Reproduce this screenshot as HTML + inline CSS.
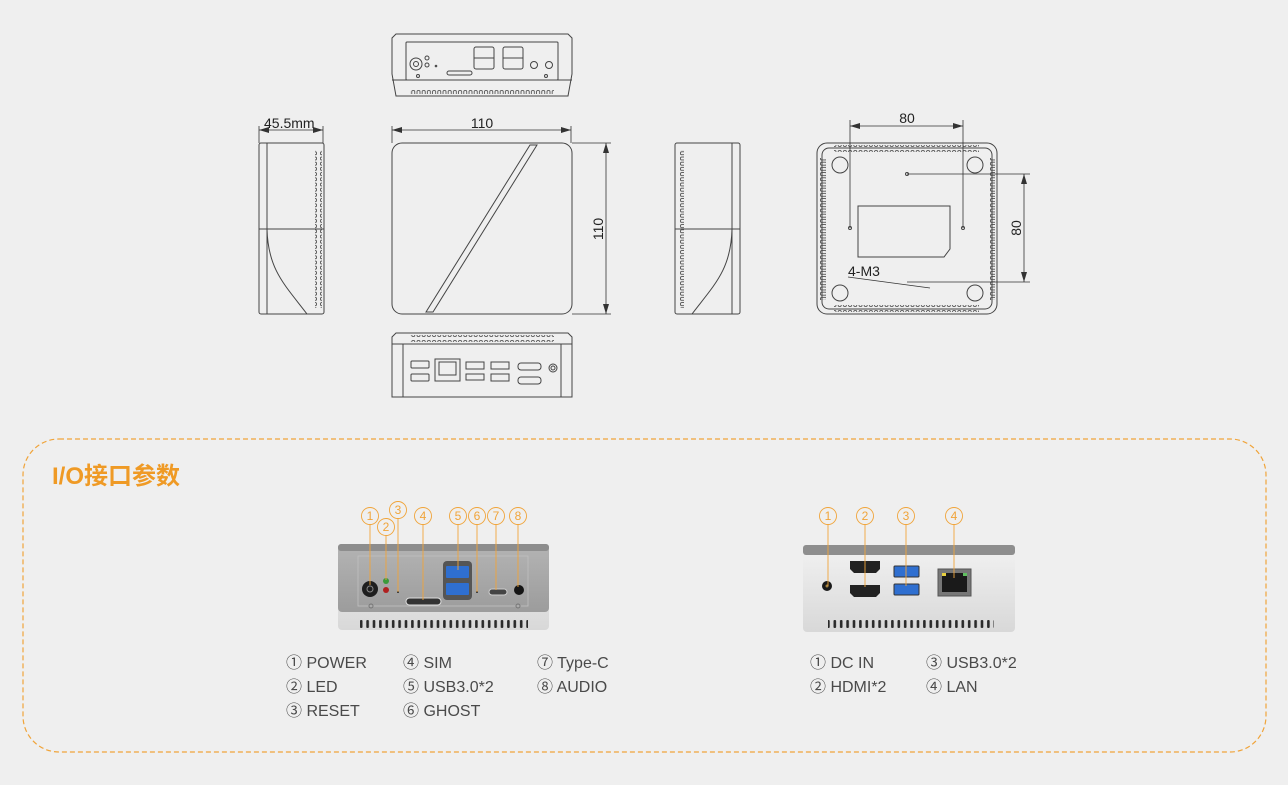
<!DOCTYPE html>
<html><head><meta charset="utf-8"><style>
html,body{margin:0;padding:0;background:#efefef;}
svg{display:block;}
.t{font-family:"Liberation Sans","Noto Sans CJK SC",sans-serif;}
</style></head><body>
<svg width="1288" height="785" viewBox="0 0 1288 785" xmlns="http://www.w3.org/2000/svg">
<defs>
<pattern id="finh" x="0" y="0" width="5.2" height="10" patternUnits="userSpaceOnUse">
<rect x="1" y="0.5" width="3" height="6" rx="1.2" fill="none" stroke="#444" stroke-width="0.8"/>
</pattern>
<pattern id="finv" x="0" y="0" width="10" height="5.2" patternUnits="userSpaceOnUse">
<rect x="0.5" y="1" width="6" height="3" rx="1.2" fill="none" stroke="#444" stroke-width="0.8"/>
</pattern>
<pattern id="vent" x="0" y="0" width="6.4" height="10" patternUnits="userSpaceOnUse">
<rect x="1.5" y="0" width="2.6" height="8" rx="1" fill="#2a2a2a"/>
</pattern>
<linearGradient id="gbody" x1="0" y1="0" x2="0" y2="1">
<stop offset="0" stop-color="#b4b4b4"/><stop offset="1" stop-color="#9c9c9c"/></linearGradient>
<linearGradient id="gsil" x1="0" y1="0" x2="0" y2="1">
<stop offset="0" stop-color="#f2f2f2"/><stop offset="1" stop-color="#d8d8d8"/></linearGradient>
<marker id="ar" viewBox="0 0 10 6" refX="10" refY="3" markerWidth="10" markerHeight="6" orient="auto-start-reverse" markerUnits="userSpaceOnUse"><path d="M0,0 L10,3 L0,6z" fill="#333"/></marker>
</defs>

<g fill="none" stroke="#444" stroke-width="1">
<path d="M396,34 H568 L572,38 V74 L568,96 H396 L392,74 V38 Z"/>
<line x1="392" y1="80" x2="572" y2="80"/>
<rect x="406" y="42" width="152" height="38" rx="1"/>
<rect x="410" y="87" width="144" height="7" fill="url(#finh)" stroke="none"/>
<circle cx="416" cy="64" r="6"/><circle cx="416" cy="64" r="2.5"/>
<circle cx="427" cy="58" r="2"/><circle cx="427" cy="65" r="2"/><circle cx="436" cy="66" r="0.8"/>
<rect x="447" y="71" width="25" height="4" rx="2"/>
<rect x="474" y="47" width="20" height="22" rx="2"/><line x1="474" y1="58" x2="494" y2="58"/>
<rect x="503" y="47" width="20" height="22" rx="2"/><line x1="503" y1="58" x2="523" y2="58"/>
<circle cx="534" cy="65" r="3.5"/><circle cx="549" cy="65" r="3.5"/>
<circle cx="418" cy="76" r="1.5"/><circle cx="546" cy="76" r="1.5"/>

<rect x="259" y="143" width="65" height="171" rx="2"/>
<line x1="267" y1="143" x2="267" y2="314"/>
<line x1="259" y1="229" x2="324" y2="229"/>
<path d="M267,229 C268,270 285,285 307,314"/>
<rect x="315" y="150" width="7" height="158" fill="url(#finv)" stroke="none"/>
<rect x="675" y="143" width="65" height="171" rx="2"/>
<line x1="732" y1="143" x2="732" y2="314"/>
<line x1="675" y1="229" x2="740" y2="229"/>
<path d="M732,229 C731,270 714,285 692,314"/>
<rect x="677" y="150" width="7" height="158" fill="url(#finv)" stroke="none"/>

<rect x="392" y="143" width="180" height="171" rx="10"/>
<path d="M530,145 L537,145 L433,312 L426,312 Z"/>

<path d="M396,333 H568 L572,337 V397 H392 V337 Z"/>
<line x1="392" y1="344" x2="572" y2="344"/>
<line x1="403" y1="344" x2="403" y2="397"/><line x1="561" y1="344" x2="561" y2="397"/>
<rect x="410" y="335" width="144" height="7" fill="url(#finh)" stroke="none"/>
<rect x="411" y="361" width="18" height="7" rx="1"/><rect x="411" y="374" width="18" height="7" rx="1"/>
<rect x="435" y="359" width="25" height="22"/><rect x="439" y="362" width="17" height="13"/>
<rect x="466" y="362" width="18" height="7"/><rect x="466" y="374" width="18" height="6"/>
<rect x="491" y="362" width="18" height="7"/><rect x="491" y="374" width="18" height="7"/>
<rect x="518" y="363" width="23" height="7" rx="3"/><rect x="518" y="377" width="23" height="7" rx="3"/>
<circle cx="553" cy="368" r="4"/><circle cx="553" cy="368" r="2"/>

<rect x="817" y="143" width="180" height="171" rx="10"/>
<rect x="822" y="148" width="170" height="161" rx="7"/>
<rect x="834" y="145" width="145" height="7" fill="url(#finh)" stroke="none"/>
<rect x="834" y="305" width="145" height="7" fill="url(#finh)" stroke="none"/>
<rect x="819" y="158" width="7" height="142" fill="url(#finv)" stroke="none"/>
<rect x="988" y="158" width="7" height="142" fill="url(#finv)" stroke="none"/>
<circle cx="840" cy="165" r="8"/><circle cx="975" cy="165" r="8"/>
<circle cx="840" cy="293" r="8"/><circle cx="975" cy="293" r="8"/>
<path d="M858,206 H950 V249 L944,257 H858 Z"/>
<circle cx="850" cy="228" r="1.5"/><circle cx="963" cy="228" r="1.5"/><circle cx="907" cy="174" r="1.5"/>
</g>

<g stroke="#333" stroke-width="0.8" fill="none">
<line x1="259" y1="126" x2="259" y2="143"/><line x1="323" y1="126" x2="323" y2="143"/>
<line x1="259" y1="130" x2="323" y2="130" marker-start="url(#ar)" marker-end="url(#ar)"/>
<line x1="392" y1="126" x2="392" y2="143"/><line x1="571" y1="126" x2="571" y2="143"/>
<line x1="392" y1="130" x2="571" y2="130" marker-start="url(#ar)" marker-end="url(#ar)"/>
<line x1="572" y1="143" x2="611" y2="143"/><line x1="572" y1="314" x2="611" y2="314"/>
<line x1="606" y1="143" x2="606" y2="314" marker-start="url(#ar)" marker-end="url(#ar)"/>
<line x1="850" y1="120" x2="850" y2="228"/><line x1="963" y1="120" x2="963" y2="228"/>
<line x1="850" y1="126" x2="963" y2="126" marker-start="url(#ar)" marker-end="url(#ar)"/>
<line x1="907" y1="174" x2="1030" y2="174"/><line x1="907" y1="282" x2="1030" y2="282"/>
<line x1="1024" y1="174" x2="1024" y2="282" marker-start="url(#ar)" marker-end="url(#ar)"/>
<line x1="848" y1="277" x2="930" y2="288"/>
</g>
<g class="t" fill="#222" font-size="14">
<text x="264" y="128">45.5mm</text>
<text x="482" y="128" text-anchor="middle">110</text>
<text x="0" y="0" transform="translate(603,229) rotate(-90)" text-anchor="middle">110</text>
<text x="907" y="123" text-anchor="middle">80</text>
<text x="0" y="0" transform="translate(1021,228) rotate(-90)" text-anchor="middle">80</text>
<text x="848" y="276">4-M3</text>
</g>

<rect x="23" y="439" width="1243" height="313" rx="36" fill="none" stroke="#f0a43a" stroke-width="1.2" stroke-dasharray="5,3"/>
<text class="t" x="52" y="484" font-size="24" font-weight="bold" fill="#ef9a25">I/O接口参数</text>

<rect x="338" y="544" width="211" height="86" rx="4" fill="url(#gsil)"/>
<rect x="338" y="544" width="211" height="68" rx="4" fill="url(#gbody)"/>
<rect x="338" y="544" width="211" height="7" rx="3" fill="#8d8d8d"/>
<rect x="358" y="556" width="170" height="50" fill="none" stroke="#c0c0c0" stroke-width="0.8"/>
<rect x="360" y="620" width="168" height="8" fill="url(#vent)"/>
<circle cx="370" cy="589" r="8" fill="#1e1e1e"/><circle cx="370" cy="589" r="3" fill="none" stroke="#888" stroke-width="1"/>
<circle cx="386" cy="581" r="3" fill="#3a9a3a"/><circle cx="386" cy="590" r="3" fill="#b02020"/>
<circle cx="398" cy="592" r="1" fill="#222"/>
<rect x="406" y="598" width="35" height="7" rx="3.5" fill="#333" stroke="#ddd" stroke-width="1"/>
<rect x="443" y="561" width="29" height="39" rx="4" fill="#555"/>
<rect x="446" y="566" width="23" height="12" rx="1" fill="#2f6fd0"/><rect x="446" y="583" width="23" height="12" rx="1" fill="#2f6fd0"/>
<circle cx="477" cy="592" r="1" fill="#222"/>
<rect x="489" y="589" width="18" height="6" rx="3" fill="#444" stroke="#ccc" stroke-width="1"/>
<circle cx="519" cy="590" r="5" fill="#151515"/>
<circle cx="371" cy="606" r="2" fill="none" stroke="#777"/><circle cx="518" cy="606" r="2" fill="none" stroke="#777"/>

<rect x="803" y="545" width="212" height="87" rx="4" fill="url(#gsil)"/>
<rect x="803" y="545" width="212" height="10" rx="3" fill="#8e8e8e"/>
<rect x="828" y="620" width="166" height="8" fill="url(#vent)"/>
<circle cx="827" cy="586" r="5" fill="#1a1a1a"/><circle cx="827" cy="586" r="1.5" fill="#a08040"/>
<path d="M850,561 h30 v8 l-4,4 h-22 l-4,-4 z" fill="#222"/>
<path d="M850,585 h30 v8 l-4,4 h-22 l-4,-4 z" fill="#222"/>
<rect x="894" y="566" width="25" height="11" rx="1" fill="#2f6fd0" stroke="#333"/>
<rect x="894" y="584" width="25" height="11" rx="1" fill="#2f6fd0" stroke="#333"/>
<rect x="938" y="569" width="33" height="27" fill="#777" stroke="#555"/>
<rect x="942" y="573" width="25" height="19" fill="#1a1a1a"/>
<rect x="942" y="573" width="4" height="3" fill="#e8d040"/><rect x="963" y="573" width="4" height="3" fill="#60c060"/>

<g fill="none" stroke="#f0a43a" stroke-width="0.9">
<circle cx="370" cy="516" r="8.5"/><line x1="370" y1="524.5" x2="370" y2="585"/>
<circle cx="386" cy="527" r="8.5"/><line x1="386" y1="535.5" x2="386" y2="580"/>
<circle cx="398" cy="510" r="8.5"/><line x1="398" y1="518.5" x2="398" y2="592"/>
<circle cx="423" cy="516" r="8.5"/><line x1="423" y1="524.5" x2="423" y2="600"/>
<circle cx="458" cy="516" r="8.5"/><line x1="458" y1="524.5" x2="458" y2="570"/>
<circle cx="477" cy="516" r="8.5"/><line x1="477" y1="524.5" x2="477" y2="592"/>
<circle cx="496" cy="516" r="8.5"/><line x1="496" y1="524.5" x2="496" y2="590"/>
<circle cx="518" cy="516" r="8.5"/><line x1="518" y1="524.5" x2="518" y2="587"/>
<circle cx="828" cy="516" r="8.5"/><line x1="828" y1="524.5" x2="828" y2="586"/>
<circle cx="865" cy="516" r="8.5"/><line x1="865" y1="524.5" x2="865" y2="587"/>
<circle cx="906" cy="516" r="8.5"/><line x1="906" y1="524.5" x2="906" y2="586"/>
<circle cx="954" cy="516" r="8.5"/><line x1="954" y1="524.5" x2="954" y2="578"/>
</g>
<g class="t" fill="#f0a43a" font-size="12" text-anchor="middle">
<text x="370" y="520">1</text><text x="386" y="531">2</text><text x="398" y="514">3</text><text x="423" y="520">4</text>
<text x="458" y="520">5</text><text x="477" y="520">6</text><text x="496" y="520">7</text><text x="518" y="520">8</text>
<text x="828" y="520">1</text><text x="865" y="520">2</text><text x="906" y="520">3</text><text x="954" y="520">4</text>
</g>

<g class="t" fill="#4a4a4a" font-size="16">
<text x="286" y="668">① POWER</text><text x="286" y="692">② LED</text><text x="286" y="716">③ RESET</text>
<text x="403" y="668">④ SIM</text><text x="403" y="692">⑤ USB3.0*2</text><text x="403" y="716">⑥ GHOST</text>
<text x="537" y="668">⑦ Type-C</text><text x="537" y="692">⑧ AUDIO</text>
<text x="810" y="668">① DC IN</text><text x="810" y="692">② HDMI*2</text>
<text x="926" y="668">③ USB3.0*2</text><text x="926" y="692">④ LAN</text>
</g>
</svg>
</body></html>
